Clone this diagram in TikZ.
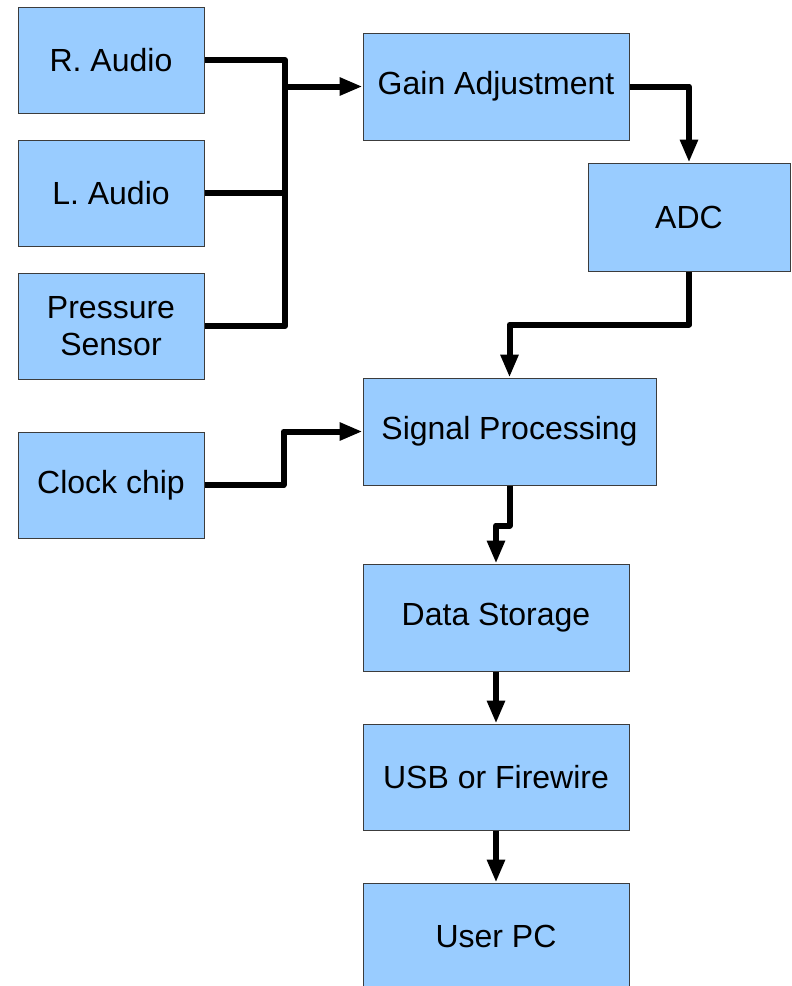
\documentclass[tikz,border=0pt]{standalone}
\usepackage{fontspec}
\setmainfont{Liberation Sans}
\usetikzlibrary{arrows.meta}
\definecolor{boxfill}{RGB}{153,204,255}
\definecolor{boxline}{RGB}{60,60,60}
\tikzset{
  blk/.style={draw=boxline, line width=1pt, fill=boxfill, inner sep=0pt,
    font=\fontsize{32}{37}\selectfont, align=center},
  conn/.style={line width=6pt, line join=round, black},
  arr/.style={conn, -{Triangle[length=23pt,width=17pt]}}
}
\begin{document}
\begin{tikzpicture}[x=1pt,y=-1pt]
\clip (0,0) rectangle (792,986);
\useasboundingbox (0,0) rectangle (792,986);
\node[blk, minimum width=186pt, minimum height=106pt] (ra) at (111,60) {R. Audio};
\node[blk, minimum width=186pt, minimum height=106pt] (la) at (111,193) {L. Audio};
\node[blk, minimum width=186pt, minimum height=106pt] (ps) at (111,326) {Pressure\\Sensor};
\node[blk, minimum width=186pt, minimum height=106pt] (clk) at (111,485) {Clock chip};
\node[blk, minimum width=266pt, minimum height=107pt] (gain) at (496,86.5) {Gain Adjustment};
\node[blk, minimum width=202pt, minimum height=108pt] (adc) at (689,217) {ADC};
\node[blk, minimum width=293pt, minimum height=107pt] (sig) at (509.5,431.5) {Signal Processing};
\node[blk, minimum width=266pt, minimum height=107pt] (data) at (496,617.5) {Data Storage};
\node[blk, minimum width=266pt, minimum height=106pt] (usb) at (496,777) {USB or Firewire};
\node[blk, minimum width=266pt, minimum height=107pt] (pc) at (496,936.5) {User PC};
% bus
\coordinate (bus) at (285,86.5);
\draw[conn] (ra.east) -| (285,326) -- (ps.east);
\draw[conn] (la.east) -- (285,193);
\draw[arr] (bus) -- (gain.west);
\draw[arr] (gain.east) -| (adc.north);
\draw[arr] (adc.south) -- ++(0,53) -| (sig.north);
\draw[arr] (clk.east) -- ++(79,0) |- (sig.west);
\draw[arr] (sig.south) -- ++(0,40) -| (data.north);
\draw[arr] (data.south) -- (usb.north);
\draw[arr] (usb.south) -- (pc.north);
\end{tikzpicture}
\end{document}
